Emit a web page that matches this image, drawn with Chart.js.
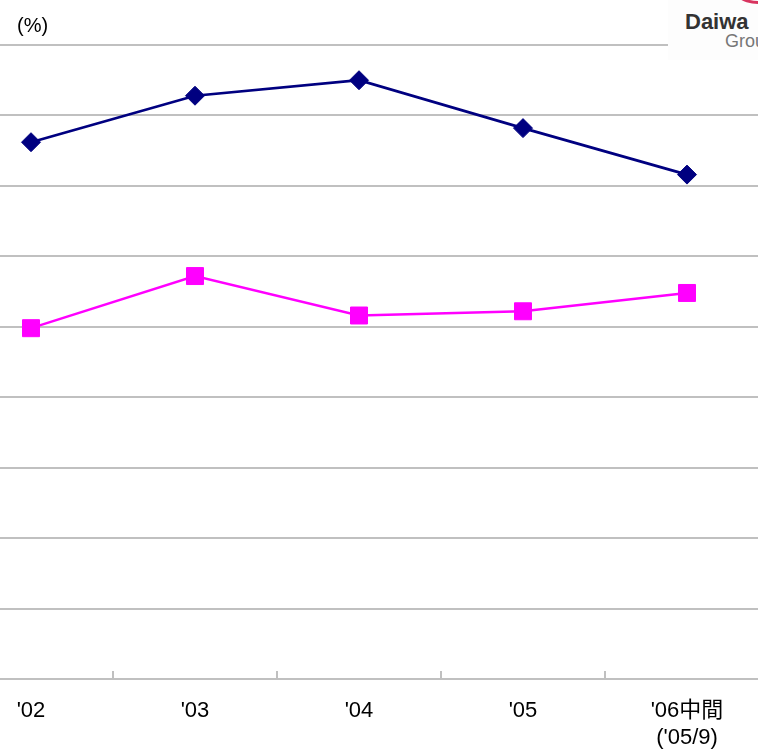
<!DOCTYPE html>
<html>
<head>
<meta charset="utf-8">
<script src="https://cdn.jsdelivr.net/npm/chart.js@4/dist/chart.umd.min.js"></script>
<style>
  html, body { margin: 0; padding: 0; background: #fff; overflow: hidden; }
  body { width: 758px; height: 749px; position: relative; }
  #wrap { position: absolute; left: -51px; top: 0; width: 820px; height: 749px; }
  #unit { position: absolute; left: 17px; top: 14px; font: 20px "Liberation Sans", sans-serif; color: #000; }
  #logo { position: absolute; left: 668px; top: 0; width: 90px; height: 60px; background: #fdfdfd; overflow: hidden; }
  #logo .arc { position: absolute; left: 60px; top: -44px; width: 60px; height: 48px; border-radius: 50%; border: 3px solid #d8345f; box-sizing: border-box; }
  #logo .name { position: absolute; left: 17px; top: 9px; font: bold 22px "Liberation Sans", sans-serif; color: #333; }
  #logo .grp { position: absolute; left: 57px; top: 31px; font: 18px "Liberation Sans", sans-serif; color: #777; }
</style>
</head>
<body>
<div id="wrap"><canvas id="c"></canvas></div>
<div id="unit">(%)</div>
<div id="logo"><div class="arc"></div><div class="name">Daiwa</div><div class="grp">Group</div></div>
<script>
// categories and values (y axis labels are cropped away)
const labels = ["'02", "'03", "'04", "'05", ["'06中間", "('05/9)"]];
const navySeries = [38.1, 41.4, 42.5, 39.1, 35.8];
const pinkSeries = [24.9, 28.6, 25.8, 26.1, 27.4];
const yMin = 0, yMax = 45, yStep = 5;

// short tick marks between categories, pointing up from the axis
const catTicks = {
    id: 'catTicks',
    afterDraw(chart) {
        const x = chart.scales.x;
        const bottom = chart.chartArea.bottom;
        const ctx = chart.ctx;
        ctx.save();
        ctx.strokeStyle = '#c0c0c0';
        ctx.lineWidth = 2;
        for (let i = 1; i < labels.length; i++) {
            const px = Math.round((x.getPixelForValue(i - 1) + x.getPixelForValue(i)) / 2);
            ctx.beginPath();
            ctx.moveTo(px, bottom - 8);
            ctx.lineTo(px, bottom);
            ctx.stroke();
        }
        ctx.restore();
    }
};

new Chart(document.getElementById('c'), {
    type: 'line',
    data: {
        labels: labels,
        datasets: [{
            data: navySeries,
            borderColor: '#000080',
            backgroundColor: '#000080',
            borderWidth: 2.7,
            pointStyle: 'rectRot',
            pointRadius: 9.5,
            pointBorderWidth: 1,
            tension: 0
        }, {
            data: pinkSeries,
            borderColor: '#ff00ff',
            backgroundColor: '#ff00ff',
            borderWidth: 2.4,
            pointStyle: 'rect',
            pointRadius: 12,
            pointBorderWidth: 1,
            tension: 0
        }]
    },
    options: {
        responsive: true,
        maintainAspectRatio: false,
        animation: false,
        events: [],
        layout: { autoPadding: false, padding: { top: 45, left: 0, right: 0, bottom: 0 } },
        plugins: { legend: { display: false }, tooltip: { enabled: false } },
        scales: {
            x: {
                offset: true,
                grid: { display: false },
                border: { display: false },
                ticks: {
                    color: '#000',
                    padding: 10,
                    font: { family: '"Liberation Sans", "Noto Sans CJK JP"', size: 22, lineHeight: 1.25 }
                },
                afterFit(scale) { scale.height = 70; }
            },
            y: {
                min: yMin,
                max: yMax,
                ticks: { display: false, stepSize: yStep },
                grid: { color: '#c0c0c0', lineWidth: 2, drawTicks: false },
                border: { display: false },
                afterFit(scale) { scale.width = 0; }
            }
        }
    },
    plugins: [catTicks]
});
</script>
</body>
</html>
